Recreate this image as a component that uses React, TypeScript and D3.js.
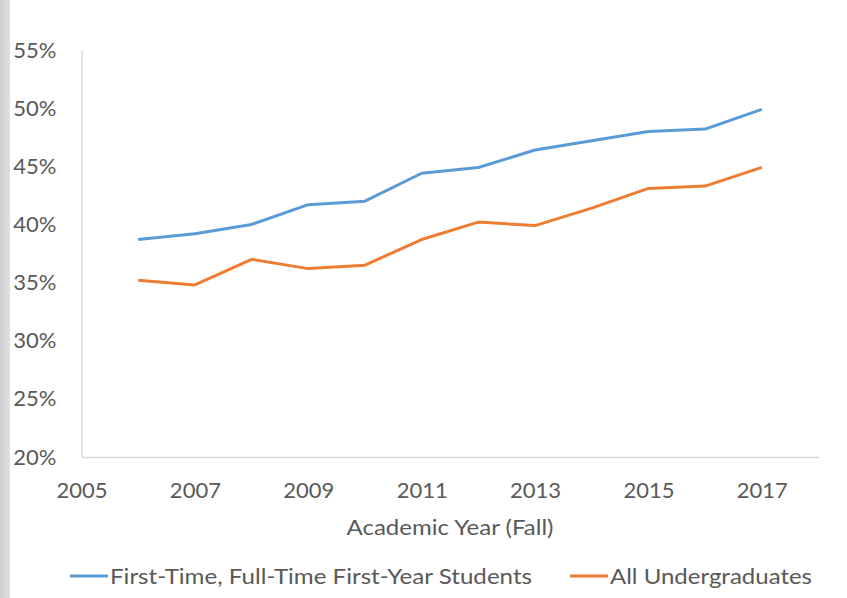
import React, { useEffect, useRef } from 'react';
import * as d3 from 'd3';

// academic years (fall)
const years = [2006, 2007, 2008, 2009, 2010, 2011, 2012, 2013, 2014, 2015, 2016, 2017];
const firstTimeFullTime = [0.387, 0.392, 0.400, 0.417, 0.420, 0.444, 0.449, 0.464, 0.472, 0.480, 0.482, 0.499];
const allUndergrads = [0.352, 0.348, 0.370, 0.362, 0.365, 0.387, 0.402, 0.399, 0.414, 0.431, 0.433, 0.449];

const xTicks = [2005, 2007, 2009, 2011, 2013, 2015, 2017];
const yTicks = [0.20, 0.25, 0.30, 0.35, 0.40, 0.45, 0.50, 0.55];

const seriesNames = ['First-Time, Full-Time First-Year Students', 'All Undergraduates'];
const seriesColors = ['#5b9bd5', '#ed7d31'];

const W = 847;
const H = 598;
const FONT = 'Lato, "Open Sans", sans-serif';
const TEXT = '#595959';
const AXIS = '#d9d9d9';

export default function App() {
  const ref = useRef<SVGSVGElement | null>(null);

  useEffect(() => {
    const svg = d3.select(ref.current);
    svg.selectAll('*').remove();

    // greyish strip on the left edge
    const defs = svg.append('defs');
    const grad = defs.append('linearGradient').attr('id', 'edge').attr('x1', 0).attr('x2', 1);
    grad.append('stop').attr('offset', '0%').attr('stop-color', '#cdcdcd');
    grad.append('stop').attr('offset', '100%').attr('stop-color', '#e0e0e0');
    svg.append('rect').attr('width', W).attr('height', H).attr('fill', '#ffffff');
    svg.append('rect').attr('width', 10).attr('height', H).attr('fill', 'url(#edge)');

    const x = d3.scaleLinear().domain([2005, 2018]).range([81.5, 818.5]);
    const y = d3.scaleLinear().domain([0.2, 0.55]).range([457, 50]);

    // axes
    const xAxis = svg.append('g')
      .attr('transform', `translate(0,${y(0.2)})`)
      .call(d3.axisBottom(x).tickValues(xTicks).tickSize(0).tickPadding(25).tickFormat(d3.format('d')));
    const yAxis = svg.append('g')
      .attr('transform', `translate(${x(2005)},0)`)
      .call(d3.axisLeft(y).tickValues(yTicks).tickSize(0).tickPadding(25).tickFormat(d3.format('.0%')));

    [xAxis, yAxis].forEach(g => {
      g.select('.domain').attr('stroke', AXIS).attr('stroke-width', 1.3);
      g.selectAll('text').attr('fill', TEXT).style('font-family', FONT).style('font-size', '22px');
    });

    // lines
    const line = d3.line<number>()
      .x((_, i) => x(years[i]))
      .y(d => y(d));

    [firstTimeFullTime, allUndergrads].forEach((vals, i) => {
      svg.append('path')
        .datum(vals)
        .attr('fill', 'none')
        .attr('stroke', seriesColors[i])
        .attr('stroke-width', 3)
        .attr('stroke-linejoin', 'round')
        .attr('d', line);
    });

    // axis title
    svg.append('text')
      .attr('x', (x(2005) + x(2018)) / 2)
      .attr('y', 527.5)
      .attr('dy', '0.35em')
      .attr('text-anchor', 'middle')
      .attr('fill', TEXT)
      .attr('textLength', 207)
      .attr('lengthAdjust', 'spacingAndGlyphs')
      .style('font-family', FONT)
      .style('font-size', '22px')
      .text('Academic Year (Fall)');

    // legend
    const legendX = [70, 570];
    const legendLen = [422, 202];
    const legend = svg.append('g').attr('transform', 'translate(0,576)');
    seriesNames.forEach((name, i) => {
      legend.append('line')
        .attr('x1', legendX[i]).attr('x2', legendX[i] + 38)
        .attr('stroke', seriesColors[i]).attr('stroke-width', 3);
      legend.append('text')
        .attr('x', legendX[i] + 40)
        .attr('dy', '0.35em')
        .attr('fill', TEXT)
        .attr('textLength', legendLen[i])
        .attr('lengthAdjust', 'spacingAndGlyphs')
        .style('font-family', FONT)
        .style('font-size', '22px')
        .text(name);
    });
  }, []);

  return (
    <div style={{ position: 'fixed', left: 0, top: 0 }}>
      <svg ref={ref} width={W} height={H} />
    </div>
  );
}
